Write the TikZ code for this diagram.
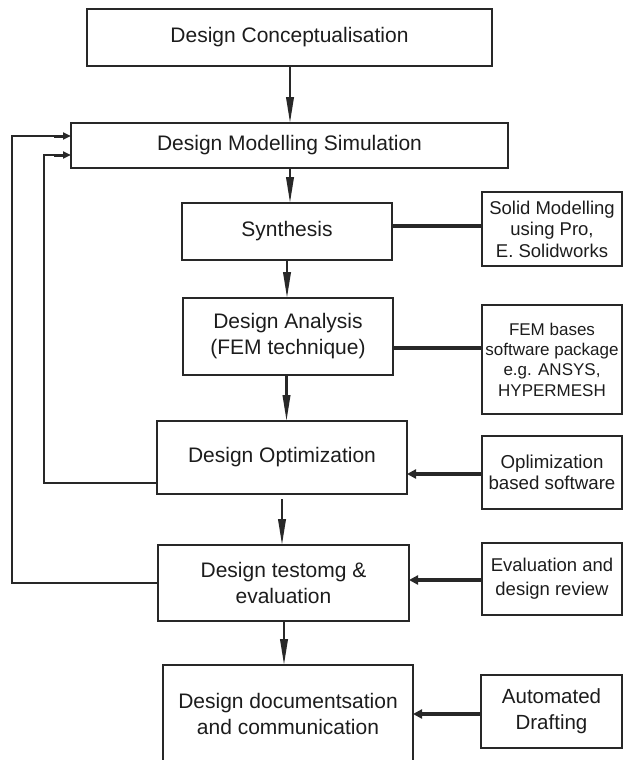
\documentclass[tikz,border=0pt]{standalone}
\usepackage{fontspec}
\setmainfont{Liberation Sans}
\usetikzlibrary{arrows.meta}
\definecolor{linec}{RGB}{40,40,40}
\definecolor{textc}{RGB}{28,28,28}
\begin{document}
\begin{tikzpicture}[x=1pt,y=-1pt,
  box/.style={draw=linec, line width=1.3pt, rectangle, inner sep=0pt, outer sep=0pt,
    align=center, text=textc},
  mainbox/.style={box, font=\fontsize{21}{26}\selectfont},
  sidebox/.style={box, font=\fontsize{18.5}{21.5}\selectfont},
  flow/.style={draw=linec, line width=2.2pt, -{Triangle[length=26pt,width=7.5pt]}},
  link/.style={draw=linec, line width=4pt},
  feedin/.style={draw=linec, line width=4pt, -{Triangle[length=9pt,width=9pt]}},
  feed/.style={draw=linec, line width=1.2pt},
  feedtip/.style={draw=linec, line width=3pt, -{Triangle[length=8pt,width=7pt]}}
]
\useasboundingbox (0,0) rectangle (623,760);

% main chain
\node[mainbox, minimum width=405pt, minimum height=57pt] (concept) at (289.5,37.5) {Design Conceptualisation};
\node[mainbox, minimum width=437pt, minimum height=45pt] (model) at (289.5,145.5) {Design Modelling Simulation};
\node[mainbox, minimum width=210pt, minimum height=57pt] (synth) at (287,231.5) {Synthesis};
\node[mainbox, minimum width=210pt, minimum height=77pt] (anal) at (288,336.5) {Design Analysis\\(FEM technique)};
\node[mainbox, minimum width=250pt, minimum height=73pt] (optim) at (282,457.5) {Design Optimization};
\node[mainbox, minimum width=251pt, minimum height=76pt] (test) at (283.5,583) {Design testomg \&\\evaluation};
\node[mainbox, minimum width=250pt, minimum height=98pt] (doc) at (288,714) {Design documentsation\\and communication};

% supporting tools
\node[sidebox, minimum width=140pt, minimum height=74pt] (solid) at (552,229) {Solid Modelling\\using Pro,\\E.\ Solidworks};
\node[box, font=\fontsize{17}{20.3}\selectfont, minimum width=140pt, minimum height=109pt] (fem) at (552,359.5) {FEM bases\\software package\\e.g. ANSYS,\\HYPERMESH};
\node[sidebox, font=\fontsize{18.7}{21}\selectfont, minimum width=140pt, minimum height=73pt] (soft) at (552,472.5) {Oplimization\\based software};
\node[sidebox, font=\fontsize{18.5}{24}\selectfont, minimum width=140pt, minimum height=72pt] (review) at (552,579) {Evaluation and\\design review};
\node[sidebox, font=\fontsize{20.5}{26}\selectfont, minimum width=141pt, minimum height=73pt] (draft) at (551.5,711.5) {Automated\\Drafting};

% flow arrows
\draw[flow] (concept.south -| 290,0) -- (model.north -| 290,0);
\draw[flow] (model.south -| 290,0) -- (synth.north -| 290,0);
\draw[flow] (synth.south) -- (synth.south |- anal.north);
\draw[flow] (anal.south -| 286.5,0) -- (optim.north -| 286.5,0);
\draw[flow, shorten <=5pt] (optim.south) -- (optim.south |- test.north);
\draw[flow] (test.south -| 284,0) -- (doc.north -| 284,0);

% tool links
\draw[link] (synth.east |- 0,226) -- (solid.west |- 0,226);
\draw[link] (anal.east |- 0,348) -- (fem.west |- 0,348);
\draw[feedin] (soft.west |- 0,474) -- (optim.east |- 0,474);
\draw[feedin] (review.west |- 0,580) -- (test.east |- 0,580);
\draw[feedin] (draft.west |- 0,714) -- (doc.east |- 0,714);

% feedback loops
\coordinate (innerTip) at (54,155);
\coordinate (outerTip) at (54,136);
\draw[feed] (optim.west |- 0,483) -| (44,155) -- (innerTip);
\draw[feed] (test.west |- 0,583) -| (12,136) -- (outerTip);
\draw[feedtip] (innerTip) -- (model.west |- innerTip);
\draw[feedtip] (outerTip) -- (model.west |- outerTip);
\end{tikzpicture}
\end{document}
